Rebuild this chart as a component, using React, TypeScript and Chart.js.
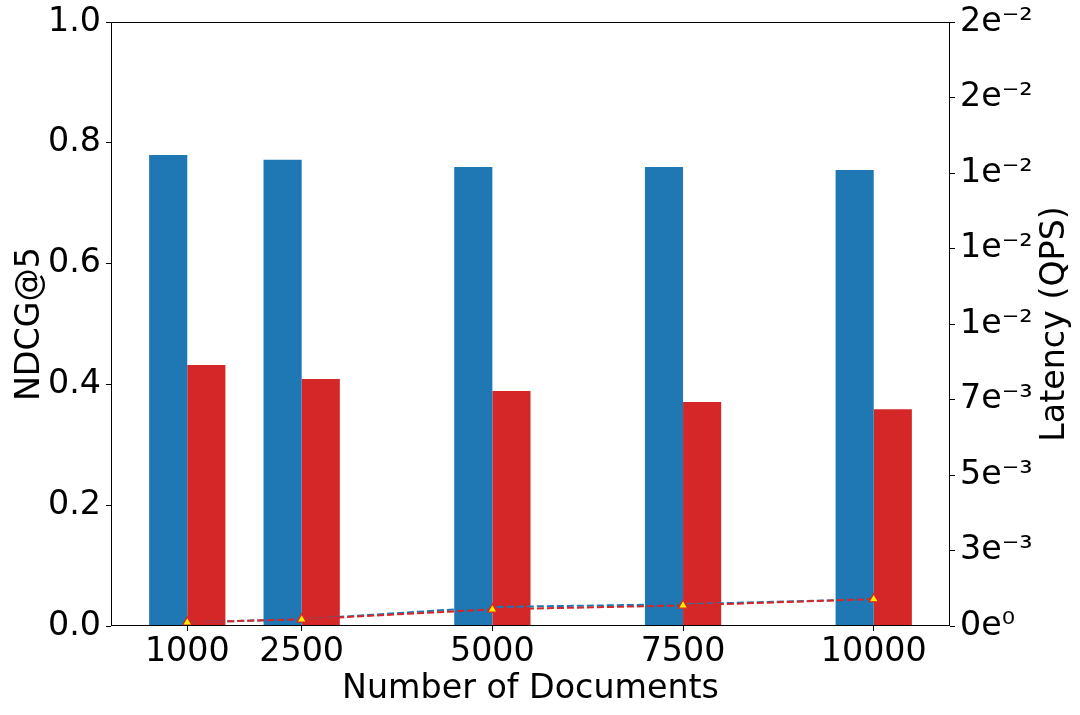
import React, { useEffect, useRef } from "react";
import { Chart, registerables } from "chart.js";

Chart.register(...registerables);

// ---- data ----
const docCounts = [1000, 2500, 5000, 7500, 10000];
const ndcgBlue = [0.78, 0.772, 0.76, 0.76, 0.755];
const ndcgRed = [0.432, 0.409, 0.389, 0.371, 0.359];
const latencyBlue = [0.00012, 0.00022, 0.00063, 0.00072, 0.00089];
const latencyRed = [0.00012, 0.00022, 0.00055, 0.00068, 0.00089];
const leftTicks = [0, 0.2, 0.4, 0.6, 0.8, 1.0];
const rightTicks = [0, 0.0025, 0.005, 0.0075, 0.01, 0.0125, 0.015, 0.0175, 0.02];
const rightTickLabels = ["0e⁰", "3e⁻³", "5e⁻³", "7e⁻³", "1e⁻²", "1e⁻²", "1e⁻²", "2e⁻²", "2e⁻²"];
const xTitle = "Number of Documents";
const leftTitle = "NDCG@5";
const rightTitle = "Latency (QPS)";

const FONT = '"DejaVu Sans", sans-serif';
const FS = 33.3;
const BLUE = "#1f77b4";
const RED = "#d62728";

const framePlugin = {
  id: "frameAndRightTitle",
  afterDraw(chart: any) {
    const { ctx, chartArea } = chart;
    const { left, top, right, bottom } = chartArea;
    ctx.save();
    ctx.strokeStyle = "#000";
    ctx.lineWidth = 1;
    ctx.strokeRect(left + 0.5, top + 0.5, right - left - 1, bottom - top - 1);
    ctx.translate(1055, (top + bottom) / 2);
    ctx.rotate(-Math.PI / 2);
    ctx.textAlign = "center";
    ctx.textBaseline = "middle";
    ctx.fillStyle = "#000";
    ctx.font = `${FS}px ${FONT}`;
    ctx.fillText(rightTitle, 0, 0);
    ctx.restore();
  },
};

export default function App() {
  const ref = useRef<HTMLCanvasElement | null>(null);

  useEffect(() => {
    if (!ref.current) return;
    document.body.style.margin = "0";
    Chart.defaults.font.family = FONT;
    Chart.defaults.color = "#000";

    const pts = (ys: number[]) => docCounts.map((x, i) => ({ x, y: ys[i] }));

    const chart = new Chart(ref.current, {
      type: "bar",
      data: {
        datasets: [
          {
            type: "bar",
            label: "NDCG blue",
            data: pts(ndcgBlue),
            backgroundColor: BLUE,
            borderWidth: 0,
            yAxisID: "y",
            order: 3,
            categoryPercentage: 2 / 3,
            barPercentage: 1,
          } as any,
          {
            type: "bar",
            label: "NDCG red",
            data: pts(ndcgRed),
            backgroundColor: RED,
            borderWidth: 0,
            yAxisID: "y",
            order: 3,
            categoryPercentage: 2 / 3,
            barPercentage: 1,
          } as any,
          {
            type: "line",
            label: "Latency blue",
            data: pts(latencyBlue),
            borderColor: BLUE,
            borderWidth: 2,
            borderDash: [7, 3],
            pointRadius: 0,
            fill: false,
            yAxisID: "y1",
            order: 2,
          } as any,
          {
            type: "line",
            label: "Latency red",
            data: pts(latencyRed),
            borderColor: RED,
            borderWidth: 2,
            borderDash: [7, 3],
            pointStyle: "triangle",
            pointRadius: 5.5,
            pointBackgroundColor: "#ffee00",
            pointBorderColor: RED,
            pointBorderWidth: 1.3,
            fill: false,
            yAxisID: "y1",
            order: 1,
          } as any,
        ],
      },
      options: {
        responsive: false,
        animation: false,
        layout: { padding: { top: 22, left: 0, right: 0, bottom: 0 } },
        plugins: { legend: { display: false }, tooltip: { enabled: false } },
        scales: {
          x: {
            type: "linear",
            position: "bottom",
            offset: false,
            min: 0,
            max: 11000,
            afterBuildTicks: (s: any) => {
              s.ticks = docCounts.map((v) => ({ value: v }));
            },
            afterFit: (s: any) => {
              s.height = 89;
              s.paddingLeft = 0;
              s.paddingRight = 0;
            },
            ticks: {
              autoSkip: false,
              maxRotation: 0,
              padding: 1,
              font: { size: FS },
              color: "#000",
              callback: (v: any) => String(v),
            },
            grid: { offset: false, drawOnChartArea: false, drawTicks: true, tickLength: 5, color: "#000" },
            border: { display: false },
            title: {
              display: true,
              text: xTitle,
              font: { size: FS },
              color: "#000",
              padding: { top: 0, bottom: 6 },
            },
          },
          y: {
            type: "linear",
            position: "left",
            min: 0,
            max: 1,
            afterBuildTicks: (s: any) => {
              s.ticks = leftTicks.map((v) => ({ value: v }));
            },
            afterFit: (s: any) => {
              s.width = 111;
              s.paddingTop = 0;
              s.paddingBottom = 0;
            },
            ticks: {
              padding: 5,
              font: { size: FS },
              color: "#000",
              callback: (v: any) => Number(v).toFixed(1),
            },
            grid: { drawOnChartArea: false, drawTicks: true, tickLength: 5, color: "#000" },
            border: { display: false },
            title: {
              display: true,
              text: leftTitle,
              font: { size: FS },
              color: "#000",
              padding: { top: 10, bottom: 0 },
            },
          },
          y1: {
            type: "linear",
            position: "right",
            min: 0,
            max: 0.02,
            afterBuildTicks: (s: any) => {
              s.ticks = rightTicks.map((v) => ({ value: v }));
            },
            afterFit: (s: any) => {
              s.width = 130;
              s.paddingTop = 0;
              s.paddingBottom = 0;
            },
            ticks: {
              padding: 5,
              font: { size: FS },
              color: "#000",
              callback: (_v: any, i: number) => rightTickLabels[i],
            },
            grid: { drawOnChartArea: false, drawTicks: true, tickLength: 5, color: "#000" },
            border: { display: false },
          },
        },
      },
      plugins: [framePlugin],
    } as any);

    return () => chart.destroy();
  }, []);

  return (
    <div style={{ position: "absolute", left: 0, top: 0, width: 1080, height: 715, background: "#fff" }}>
      <canvas ref={ref} width={1080} height={715} style={{ display: "block" }} />
    </div>
  );
}
